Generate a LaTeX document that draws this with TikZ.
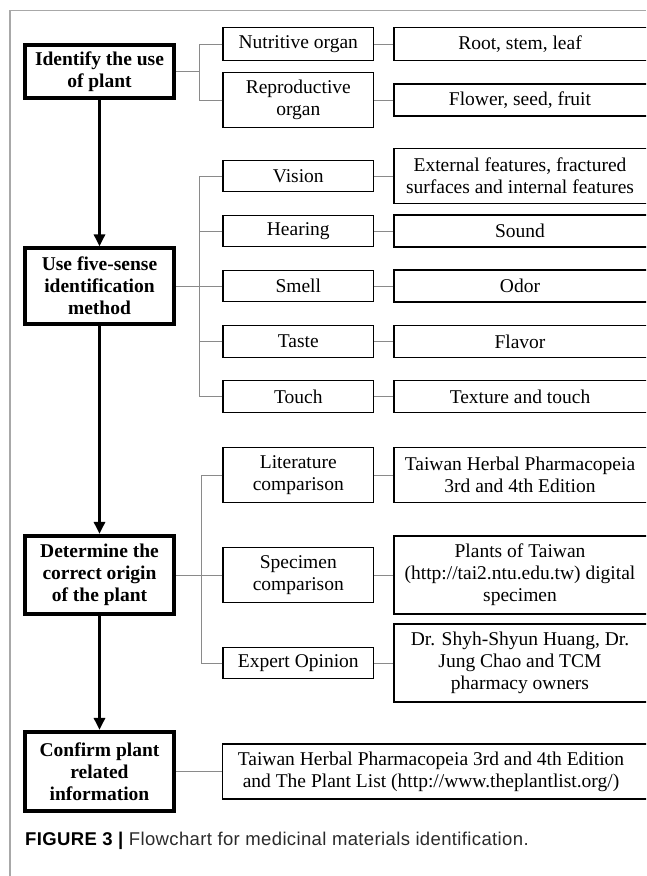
\documentclass[tikz,border=0pt]{standalone}
\usepackage{fontspec}
\setmainfont{Liberation Serif}
\newfontfamily\capfont[LetterSpace=2]{Liberation Sans}
\usetikzlibrary{arrows.meta}
\definecolor{conngray}{HTML}{8A8A8A}
\definecolor{framegray}{HTML}{A8A8A8}
\definecolor{captext}{HTML}{2A2A2A}
\tikzset{
  mainbox/.style={draw, line width=3.8pt, minimum width=149.5pt, align=center,
    font=\bfseries\fontsize{19.5}{22}\selectfont, inner sep=0pt},
  keybox/.style={draw, line width=1.3pt, minimum width=150.5pt, align=center, inner sep=0pt},
  valbox/.style={draw, line width=1.3pt, anchor=west, minimum width=560pt, inner sep=0pt},
  valtext/.style={align=center, inner sep=0pt},
  conn/.style={draw=conngray, line width=1pt},
  flow/.style={line width=3.7pt, -{Triangle[length=12pt,width=11pt]}},
  framerule/.style={draw=framegray, line width=1.6pt},
}
\begin{document}
\begin{tikzpicture}[x=1pt,y=-1pt,font=\fontsize{19.5}{22}\selectfont]
\useasboundingbox (0,0) rectangle (646,876);
\clip (0,0) rectangle (646,876);
% frame
\coordinate (fa) at (10,876);
\coordinate (fb) at (10,10.5);
\coordinate (fc) at (646,10.5);
\draw[framerule] (fa) -- (fb) -- (fc);

% main boxes
\node[mainbox, minimum height=53.5pt] (m1) at (99.5,71.5) {Identify the use\\of plant};
\node[mainbox, minimum height=75.5pt] (m2) at (99.5,286) {Use five-sense\\identification\\method};
\node[mainbox, minimum height=78.5pt] (m3) at (99.5,575) {Determine the\\correct origin\\of the plant};
\node[mainbox, minimum height=79.5pt] (m4) at (99.5,771.5) {Confirm plant\\related\\information};

% key boxes
\node[keybox, minimum height=33pt] (knut) at (298.3,44) {Nutritive organ};
\node[keybox, minimum height=55pt] (krep) at (298.3,100) {Reproductive\\organ};
\node[keybox, minimum height=31pt] (kvis) at (298.3,176) {Vision};
\node[keybox, minimum height=31pt] (khear) at (298.3,231) {Hearing};
\node[keybox, minimum height=31pt] (ksmell) at (298.3,286) {Smell};
\node[keybox, minimum height=32pt] (ktaste) at (298.3,341.5) {Taste};
\node[keybox, minimum height=32pt] (ktouch) at (298.3,396.5) {Touch};
\node[keybox, minimum height=55pt] (klit) at (298.3,475) {Literature\\comparison};
\node[keybox, minimum height=55pt] (kspec) at (298.3,575) {Specimen\\comparison};
\node[keybox, minimum height=31pt] (kexp) at (298.3,663) {Expert Opinion};

% value boxes
\node[valbox, minimum height=33pt] (vroot) at (393.3,44) {};
\node[valbox, minimum height=32pt] (vflower) at (393.3,100) {};
\node[valbox, minimum height=55pt] (vext) at (393.3,176) {};
\node[valbox, minimum height=32pt] (vsound) at (393.3,231) {};
\node[valbox, minimum height=32pt] (vodor) at (393.3,286) {};
\node[valbox, minimum height=32pt] (vflavor) at (393.3,341.5) {};
\node[valbox, minimum height=32pt] (vtexture) at (393.3,396.5) {};
\node[valbox, minimum height=55pt] (vtai) at (393.3,475) {};
\node[valbox, minimum height=78pt] (vplants) at (393.3,575) {};
\node[valbox, minimum height=78pt] (vdr) at (393.3,663) {};
\node[valbox, minimum height=55pt] (vbig) at (222,771.5) {};

% value texts
\node[valtext] (troot) at (520,44) {Root, stem, leaf};
\node[valtext] (tflower) at (520,100) {Flower, seed, fruit};
\node[valtext] (text) at (520,176) {External features, fractured\\surfaces and internal features};
\node[valtext] (tsound) at (520,231) {Sound};
\node[valtext] (todor) at (520,286) {Odor};
\node[valtext] (tflavor) at (520,341.5) {Flavor};
\node[valtext] (ttexture) at (520,396.5) {Texture and touch};
\node[valtext] (ttai) at (520,475) {Taiwan Herbal Pharmacopeia\\3rd and 4th Edition};
\node[valtext] (tplants) at (520,575) {Plants of Taiwan\\(http://tai2.ntu.edu.tw) digital\\specimen};
\node[valtext] (tdr) at (520,663) {Dr. Shyh-Shyun Huang, Dr.\\Jung Chao and TCM\\pharmacy owners};
\node[valtext] (tbig) at (431,771.5) {Taiwan Herbal Pharmacopeia 3rd and 4th Edition\\and The Plant List (http://www.theplantlist.org/)};

% flow arrows
\draw[flow] (m1.south) -- (m2.north);
\draw[flow] (m2.south) -- (m3.north);
\draw[flow] (m3.south) -- (m4.north);

% bus 1
\coordinate (b1) at (199.5,71.5);
\draw[conn] (m1.east) -- (b1);
\draw[conn] (knut.west) -| (b1);
\draw[conn] (krep.west) -| (b1);
% bus 2
\coordinate (b2) at (199.5,286);
\draw[conn] (m2.east) -- (b2);
\draw[conn] (kvis.west) -| (b2);
\draw[conn] (khear.west) -| (b2);
\draw[conn] (ksmell.west) -- (b2);
\draw[conn] (ktaste.west) -| (b2);
\draw[conn] (ktouch.west) -| (b2);
% bus 3
\coordinate (b3) at (201,575);
\draw[conn] (m3.east) -- (b3);
\draw[conn] (klit.west) -| (b3);
\draw[conn] (kspec.west) -- (b3);
\draw[conn] (kexp.west) -| (b3);
% key to value
\draw[conn] (knut.east) -- (vroot.west);
\draw[conn] (krep.east) -- (vflower.west);
\draw[conn] (kvis.east) -- (vext.west);
\draw[conn] (khear.east) -- (vsound.west);
\draw[conn] (ksmell.east) -- (vodor.west);
\draw[conn] (ktaste.east) -- (vflavor.west);
\draw[conn] (ktouch.east) -- (vtexture.west);
\draw[conn] (klit.east) -- (vtai.west);
\draw[conn] (kspec.east) -- (vplants.west);
\draw[conn] (kexp.east) -- (vdr.west);
\draw[conn] (m4.east) -- (vbig.west);

% caption
\node[anchor=base west, inner sep=0pt, text=captext,
  font=\capfont\fontsize{18.5}{20}\selectfont] (cap) at (25,845)
  {\textbf{\color{black}FIGURE 3 |} Flowchart for medicinal materials identification.};
\end{tikzpicture}
\end{document}
